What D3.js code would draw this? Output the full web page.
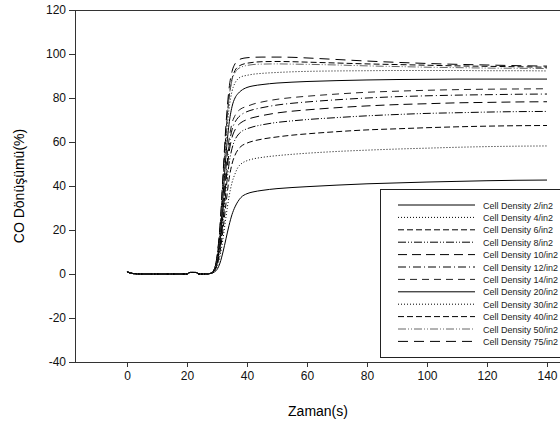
<!DOCTYPE html>
<html>
<head>
<meta charset="utf-8">
<script src="https://cdn.jsdelivr.net/npm/d3@7"></script>
<style>
  body { margin: 0; background: #fff; }
  svg { display: block; font-family: "Liberation Sans", Arial, sans-serif; }
</style>
</head>
<body>
<div id="chart"></div>
<script>
// time points (s)
const times = [0, 2, 5, 10, 15, 20, 21, 23, 24, 26, 28,
  29, 30, 31, 32, 33, 34, 35, 36, 37, 38, 40, 42, 45, 50, 55, 60, 70, 80, 90, 100, 110, 120, 130, 140];

// flat start, same for every series (t = 0 .. 28)
const baseline = [1, 0.2, 0, 0, 0, 0, 0.7, 0.7, 0, 0, 0.3];

// CO conversion after light-off (t = 29 .. 140)
const cd2  = [0.8, 2, 5, 10, 16, 22, 27, 30.5, 33, 34.8, 36.5, 37.3, 38, 38.8, 39.3, 39.7, 40.4, 41, 41.4, 41.8, 42.1, 42.4, 42.6, 42.7];
const cd4  = [1, 3, 8, 16, 26, 35, 41.5, 45.5, 48.5, 50, 51.5, 52.3, 53, 53.8, 54.4, 54.9, 55.7, 56.3, 56.8, 57.2, 57.6, 57.9, 58.1, 58.2];
const cd6  = [1.2, 4, 10, 20, 32, 43, 50, 54, 56.5, 58, 59.5, 60.4, 61.3, 62.3, 63.1, 63.7, 64.7, 65.5, 66, 66.5, 66.9, 67.2, 67.4, 67.5];
const cd8  = [1.3, 4.5, 12, 24, 38, 50, 57, 61, 63.2, 64.6, 66, 66.9, 67.8, 68.9, 69.6, 70.2, 71.1, 71.9, 72.5, 73, 73.3, 73.6, 73.8, 73.9];
const cd10 = [1.4, 5, 13, 27, 42, 55, 62, 65.5, 67.6, 68.8, 70.2, 71.1, 72, 73.2, 74, 74.6, 75.6, 76.4, 77, 77.4, 77.8, 78, 78.2, 78.3];
const cd12 = [1.5, 5.5, 14, 29, 45, 58, 65.5, 69, 71, 72.3, 73.8, 74.7, 75.6, 76.8, 77.6, 78.2, 79.2, 80, 80.6, 81, 81.3, 81.5, 81.7, 81.8];
const cd14 = [1.6, 6, 15, 31, 48, 61, 68.5, 72, 74, 75.1, 76.2, 77.2, 78.2, 79.4, 80.2, 80.8, 81.8, 82.6, 83.1, 83.5, 83.8, 84, 84.1, 84.2];
const cd20 = [1.7, 6.5, 17, 35, 54, 68, 76, 80, 82, 83.3, 84.8, 85.5, 86.1, 86.8, 87.2, 87.5, 87.9, 88.2, 88.4, 88.5, 88.6, 88.6, 88.6, 88.6];
const cd30 = [1.8, 7, 19, 39, 60, 75, 83, 86.8, 88.7, 89.6, 90.3, 90.8, 91.2, 91.6, 91.9, 92.1, 92.3, 92.4, 92.5, 92.5, 92.5, 92.4, 92.4, 92.3];
const cd40 = [1.9, 7.5, 20.5, 42, 64, 80, 88.5, 92.5, 94.2, 95, 95.8, 96.2, 96.5, 96.6, 96.5, 96.3, 95.9, 95.5, 95.2, 94.9, 94.6, 94.4, 94.2, 94];
const cd50 = [1.9, 7.5, 21, 43, 65, 80, 88, 91.5, 93.2, 94, 94.8, 95.2, 95.4, 95.5, 95.4, 95.3, 95, 94.6, 94.3, 94, 93.8, 93.6, 93.5, 93.4];
const cd75 = [2, 8, 22, 45, 68, 84, 92, 95.5, 97, 97.8, 98.3, 98.5, 98.6, 98.6, 98.5, 98.2, 97.5, 96.8, 96.2, 95.7, 95.3, 95, 94.7, 94.5];

const seriesNames = ["Cell Density 2/in2", "Cell Density 4/in2", "Cell Density 6/in2", "Cell Density 8/in2",
  "Cell Density 10/in2", "Cell Density 12/in2", "Cell Density 14/in2", "Cell Density 20/in2",
  "Cell Density 30/in2", "Cell Density 40/in2", "Cell Density 50/in2", "Cell Density 75/in2"];
const seriesValues = [cd2, cd4, cd6, cd8, cd10, cd12, cd14, cd20, cd30, cd40, cd50, cd75];

const xTicks = [0, 20, 40, 60, 80, 100, 120, 140];
const yTicks = [-40, -20, 0, 20, 40, 60, 80, 100, 120];

// line styles, sigmaplot-ish
const dashes = ["", "1,2", "6,3", "8,2,1,2,1,2", "9,5", "8,3,1,3", "7,5", "", "1,2", "6,3", "8,2,1,2,1,2", "10,6"];
const colors = ["#000", "#000", "#000", "#000", "#000", "#000", "#222", "#000", "#000", "#000", "#666", "#000"];

const W = 560, H = 427;
const mLeft = 75, mTop = 10, mBottom = 362;

const x = d3.scaleLinear().domain([-17.33, 145]).range([mLeft, 562]);
const y = d3.scaleLinear().domain([-40, 120]).range([mBottom, mTop]);

const svg = d3.select("#chart").append("svg")
    .attr("width", W)
    .attr("height", H);

const data = seriesValues.map((vals, i) => {
    const all = baseline.concat(vals);
    return { name: seriesNames[i], points: times.map((t, j) => [t, all[j]]) };
});

// frame: top line
svg.append("line").attr("x1", mLeft).attr("x2", W).attr("y1", mTop + 0.5).attr("y2", mTop + 0.5)
    .attr("stroke", "#333");

const line = d3.line()
    .x(d => x(d[0]))
    .y(d => y(d[1]))
    .curve(d3.curveMonotoneX);

svg.append("g")
    .selectAll("path")
    .data(data)
    .enter().append("path")
    .attr("d", d => line(d.points))
    .attr("fill", "none")
    .attr("stroke", (d, i) => colors[i])
    .attr("stroke-width", 1)
    .attr("stroke-dasharray", (d, i) => dashes[i]);

// axes (plain hyphen for negatives, like the original)
const fmt = d => String(d);
const xAxis = svg.append("g")
    .attr("transform", "translate(0," + mBottom + ")")
    .call(d3.axisBottom(x).tickValues(xTicks).tickFormat(fmt).tickSize(5).tickPadding(4).tickSizeOuter(0));
const yAxis = svg.append("g")
    .attr("transform", "translate(" + mLeft + ",0)")
    .call(d3.axisLeft(y).tickValues(yTicks).tickFormat(fmt).tickSize(6).tickPadding(3).tickSizeOuter(0));

[xAxis, yAxis].forEach(g => {
    g.select(".domain").attr("stroke", "#333");
    g.selectAll(".tick line").attr("stroke", "#333");
    g.selectAll(".tick text").attr("font-size", 12).attr("fill", "#111")
        .attr("font-family", "Liberation Sans, Arial, sans-serif");
});
xAxis.select(".domain").attr("d", "M" + mLeft + ",0.5H" + W);

svg.append("text")
    .attr("x", 318).attr("y", 416)
    .attr("text-anchor", "middle")
    .attr("font-size", 14)
    .text("Zaman(s)");

svg.append("text")
    .attr("transform", "translate(24," + ((mTop + mBottom) / 2) + ")rotate(-90)")
    .attr("text-anchor", "middle")
    .attr("font-size", 14)
    .text("CO Dönüşümü(%)");

// legend
const legend = svg.append("g");
legend.append("rect")
    .attr("x", 380.5).attr("y", 189.5)
    .attr("width", 200).attr("height", 168)
    .attr("fill", "#fff").attr("stroke", "#222");

const rows = legend.selectAll("g.row")
    .data(data)
    .enter().append("g")
    .attr("transform", (d, i) => "translate(0," + (205 + i * 12.4) + ")");
rows.append("line")
    .attr("x1", 398).attr("x2", 475)
    .attr("stroke", (d, i) => colors[i])
    .attr("stroke-dasharray", (d, i) => dashes[i]);
rows.append("text")
    .attr("x", 483).attr("y", 3.5)
    .attr("font-size", 9)
    .attr("fill", "#222")
    .text(d => d.name);
</script>
</body>
</html>
